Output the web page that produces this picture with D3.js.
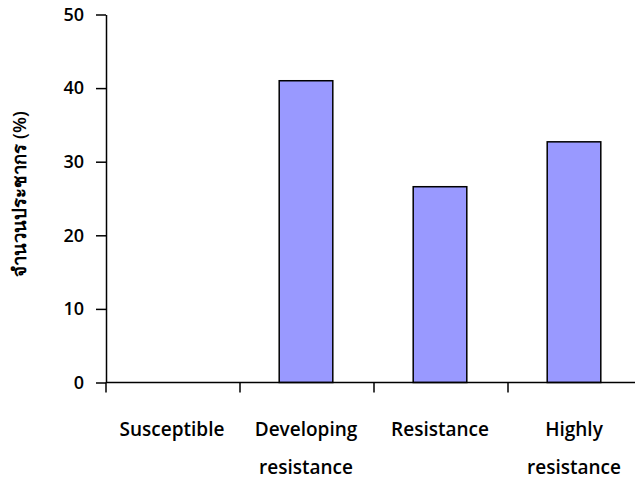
<!DOCTYPE html>
<html><head><meta charset="utf-8">
<script src="https://cdn.jsdelivr.net/npm/d3@7"></script>
<style>
body{margin:0;background:#fff;}
text{font-family:"Open Sans","Noto Sans",sans-serif;font-weight:600;fill:#000;}
</style></head>
<body><svg id="c" width="635" height="481"></svg>
<script>
const categories = [["Susceptible"], ["Developing", "resistance"], ["Resistance"], ["Highly", "resistance"]];
const values = [0, 41.0, 26.6, 32.7];
const yTicks = [0, 10, 20, 30, 40, 50];
const yTitle = "จำนวนประชากร (%)";

const svg = d3.select("#c");
const mLeft = 106, mRight = 642, mTop = 14.5, mBottom = 382.5;
const keys = categories.map((d, i) => i);
const x = d3.scaleBand().domain(keys).range([mLeft, mRight]).paddingInner(0).paddingOuter(0);
const y = d3.scaleLinear().domain([0, 50]).range([mBottom, mTop]);

// bars
const bw = x.bandwidth() * 0.4;
svg.append("g").selectAll("rect").data(values).join("rect")
  .attr("x", (d, i) => x(i) + x.bandwidth() / 2 - bw / 2 - 1)
  .attr("y", d => y(d))
  .attr("width", bw)
  .attr("height", d => y(0) - y(d))
  .attr("fill", "#9999ff")
  .attr("stroke", "#000")
  .attr("stroke-width", 1.5)
  .style("display", d => d > 0 ? null : "none");

// y axis
const ya = svg.append("g").attr("transform", `translate(${mLeft},0)`)
  .call(d3.axisLeft(y).tickValues(yTicks).tickSize(10).tickPadding(12).tickSizeOuter(0));
ya.attr("font-family", null).attr("font-size", null);
ya.select(".domain").attr("stroke", "#000").attr("stroke-width", 1.5);
ya.selectAll(".tick line").attr("stroke", "#000").attr("stroke-width", 1.5);
ya.selectAll(".tick text").style("font-size", "18px").attr("fill", "#000");

// x axis
const xa = svg.append("g").attr("transform", `translate(0,${mBottom})`);
xa.append("line").attr("x1", mLeft).attr("x2", mRight).attr("stroke", "#000").attr("stroke-width", 1.5);
xa.selectAll("line.tk").data(keys).join("line").attr("class", "tk")
  .attr("x1", d => x(d)).attr("x2", d => x(d)).attr("y1", 0).attr("y2", 10)
  .attr("stroke", "#000").attr("stroke-width", 1.5);
const lab = xa.selectAll("text.cat").data(categories).join("text").attr("class", "cat")
  .attr("text-anchor", "middle").style("font-size", "19px")
  .attr("transform", (d, i) => `translate(${x(i) + x.bandwidth() / 2 - 1},0)`);
lab.selectAll("tspan").data(d => d).join("tspan")
  .attr("x", 0).attr("y", (d, j) => 53 + j * 38).text(d => d);

// y title
svg.append("text").attr("text-anchor", "middle")
  .attr("transform", "translate(26,194) rotate(-90)")
  .style("font-size", "18.5px").text(yTitle);
</script></body></html>
